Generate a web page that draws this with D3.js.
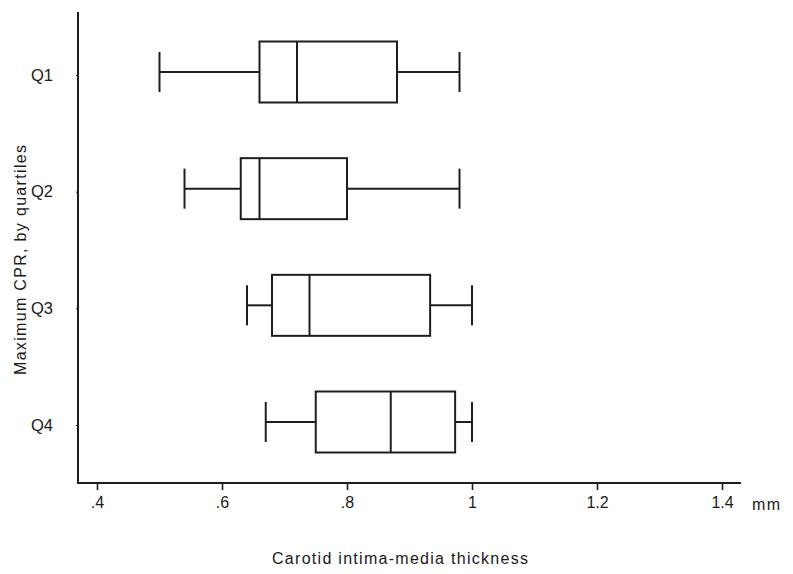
<!DOCTYPE html>
<html>
<head>
<meta charset="utf-8">
<script src="https://cdn.jsdelivr.net/npm/d3@7"></script>
<style>
  body { margin: 0; background: #fff; }
  text { font-family: "Liberation Sans", Arial, sans-serif; fill: #1a1a1a; }
</style>
</head>
<body>
<script>
// box plot values
const GROUPS = ["Q1", "Q2", "Q3", "Q4"];
const WHISK_LO = [0.50, 0.54, 0.64, 0.67];
const BOX_LO = [0.66, 0.63, 0.68, 0.75];
const MEDIAN = [0.72, 0.66, 0.74, 0.87];
const BOX_HI = [0.88, 0.80, 0.933, 0.973];
const WHISK_HI = [0.98, 0.98, 1.0, 1.0];
const X_TICKS = [0.4, 0.6, 0.8, 1.0, 1.2, 1.4];

const width = 793,
  height = 574,
  ink = "#1e1e1e",
  font = "Liberation Sans, Arial, sans-serif";

const rows = GROUPS.map((g, i) => ({
  group: g,
  lo: WHISK_LO[i],
  q1: BOX_LO[i],
  med: MEDIAN[i],
  q3: BOX_HI[i],
  hi: WHISK_HI[i]
}));

const svg = d3
  .select("body")
  .append("svg")
  .attr("width", width)
  .attr("height", height);

const xScale = d3.scaleLinear().domain([0.4, 1.4]).range([97, 722]);
const yScale = d3.scalePoint().domain(GROUPS).range([72, 422]);

// x axis
const xAxis = d3
  .axisBottom(xScale)
  .tickValues(X_TICKS)
  .tickSize(7)
  .tickSizeOuter(0)
  .tickFormat(d => (d === 1 ? "1" : d3.format(".1f")(d).replace(/^0/, "")));

const gx = svg
  .append("g")
  .attr("transform", "translate(0, 483)")
  .call(xAxis);
gx.select(".domain").remove();
gx.selectAll(".tick line").attr("stroke", ink).attr("stroke-width", 1.6);
gx.selectAll(".tick text")
  .attr("y", 14)
  .style("font-size", "16px")
  .style("font-family", font)
  .attr("fill", ink);

svg
  .append("line")
  .attr("x1", 77)
  .attr("x2", 741)
  .attr("y1", 483)
  .attr("y2", 483)
  .attr("stroke", ink)
  .attr("stroke-width", 2);

// y axis
const yAxis = d3.axisLeft(yScale).tickSize(2).tickPadding(23);
const gy = svg
  .append("g")
  .attr("transform", "translate(78, 3)")
  .call(yAxis);
gy.select(".domain").remove();
gy.selectAll(".tick line").attr("stroke", ink).attr("stroke-width", 1);
gy.selectAll(".tick text")
  .style("font-size", "16.5px")
  .style("font-family", font)
  .attr("fill", ink);

svg
  .append("line")
  .attr("x1", 78)
  .attr("x2", 78)
  .attr("y1", 12)
  .attr("y2", 484)
  .attr("stroke", ink)
  .attr("stroke-width", 2);

// boxes
const boxH = 61,
  capH = 40;

const box = svg
  .append("g")
  .selectAll("g")
  .data(rows)
  .enter()
  .append("g")
  .attr("transform", d => `translate(0, ${yScale(d.group)})`)
  .attr("stroke", ink)
  .attr("stroke-width", 2)
  .attr("fill", "none");

box
  .append("line")
  .attr("x1", d => xScale(d.lo))
  .attr("x2", d => xScale(d.q1))
  .attr("y1", 0)
  .attr("y2", 0);

box
  .append("line")
  .attr("x1", d => xScale(d.q3))
  .attr("x2", d => xScale(d.hi))
  .attr("y1", 0)
  .attr("y2", 0);

box
  .append("line")
  .attr("x1", d => xScale(d.lo))
  .attr("x2", d => xScale(d.lo))
  .attr("y1", -capH / 2)
  .attr("y2", capH / 2);

box
  .append("line")
  .attr("x1", d => xScale(d.hi))
  .attr("x2", d => xScale(d.hi))
  .attr("y1", -capH / 2)
  .attr("y2", capH / 2);

box
  .append("rect")
  .attr("x", d => xScale(d.q1))
  .attr("y", -boxH / 2)
  .attr("width", d => xScale(d.q3) - xScale(d.q1))
  .attr("height", boxH);

box
  .append("line")
  .attr("x1", d => xScale(d.med))
  .attr("x2", d => xScale(d.med))
  .attr("y1", -boxH / 2)
  .attr("y2", boxH / 2);

// titles
svg
  .append("text")
  .attr("x", 752)
  .attr("y", 510)
  .style("font-size", "16px")
  .attr("textLength", 28)
  .text("mm");

svg
  .append("text")
  .attr("x", 272)
  .attr("y", 564)
  .style("font-size", "16px")
  .attr("textLength", 256)
  .text("Carotid intima-media thickness");

svg
  .append("text")
  .attr("transform", "translate(26, 375) rotate(-90)")
  .style("font-size", "16px")
  .attr("textLength", 230)
  .text("Maximum CPR, by quartiles");
</script>
</body>
</html>
